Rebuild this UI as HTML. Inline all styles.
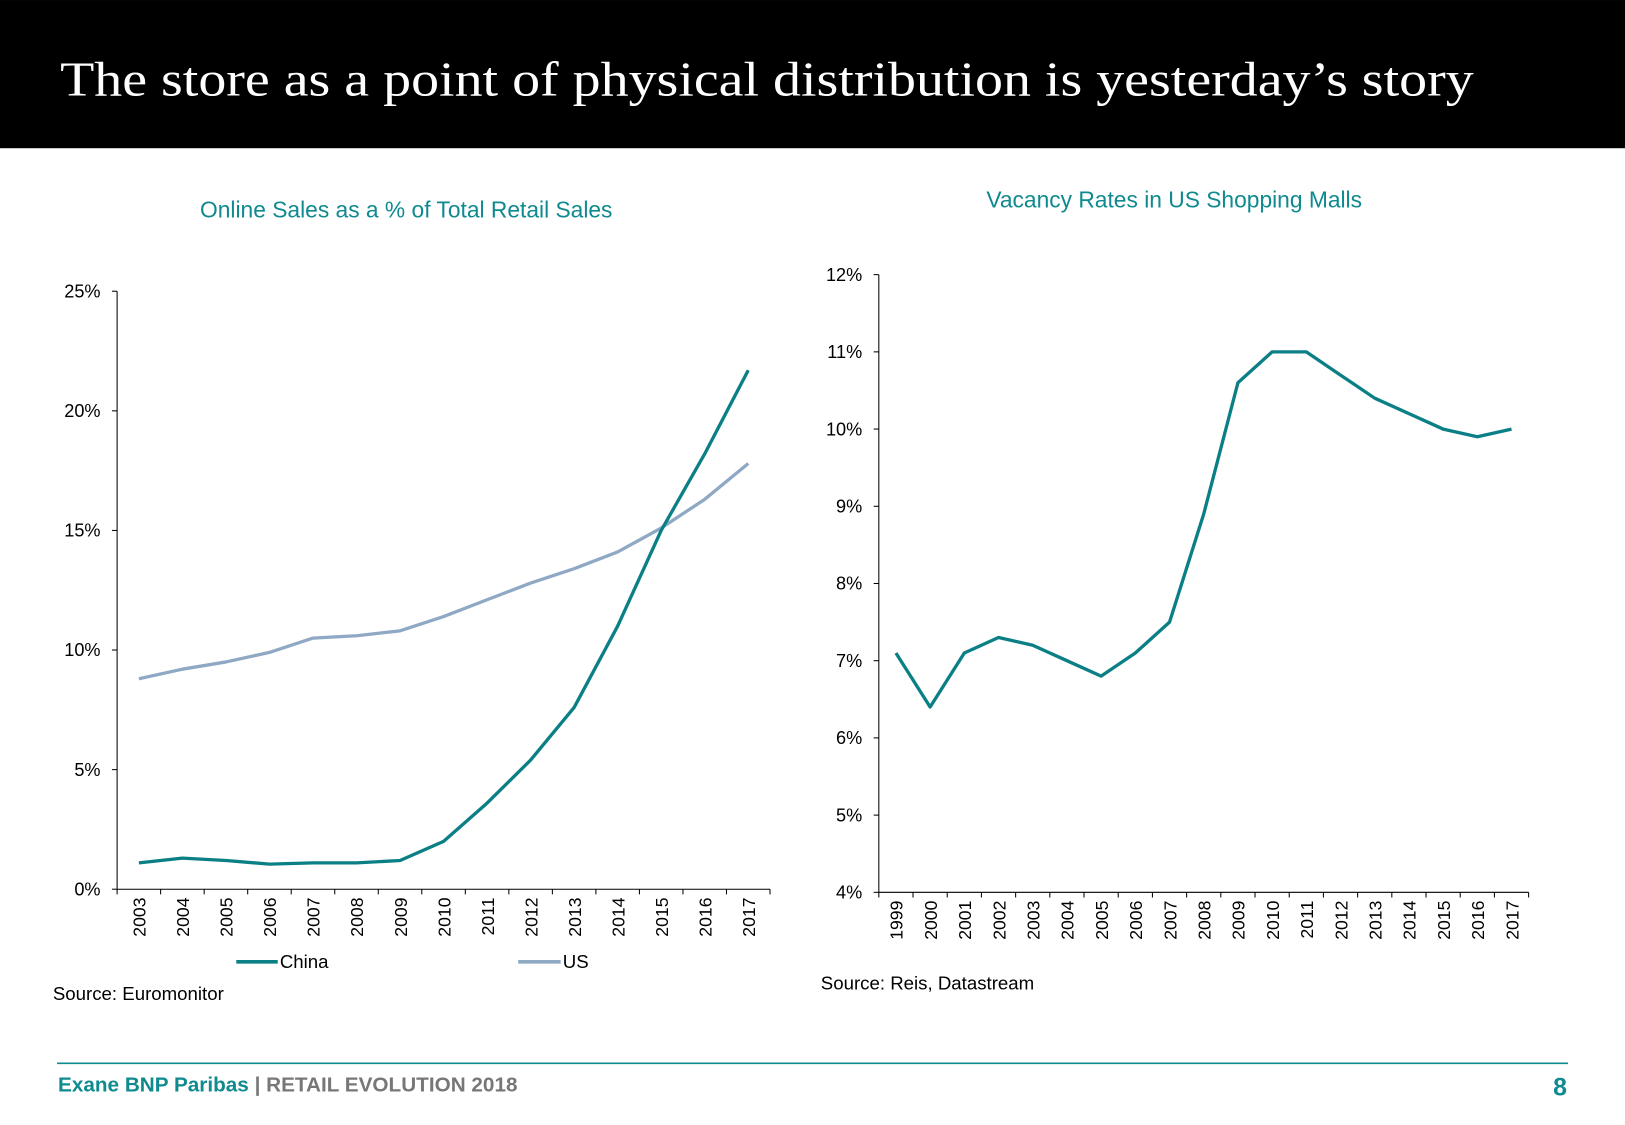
<!DOCTYPE html>
<html><head><meta charset="utf-8"><style>
html,body{margin:0;padding:0;background:#fff;width:1625px;height:1125px;overflow:hidden}
svg{display:block}
text{font-family:"Liberation Sans",sans-serif}
</style></head><body>
<svg id="root" width="1625" height="1125" viewBox="0 0 1568 1085.5">
<rect x="0" y="0" width="1568" height="143" fill="#000"/>
<text x="58" y="92" font-size="47" fill="#fff" style='font-family:"Liberation Serif",serif' textLength="1364" lengthAdjust="spacingAndGlyphs">The store as a point of physical distribution is yesterday’s story</text>
<text x="392" y="210" font-size="22" fill="#0f8a8f" text-anchor="middle">Online Sales as a % of Total Retail Sales</text>
<text x="1133" y="200" font-size="22" fill="#0f8a8f" text-anchor="middle">Vacancy Rates in US Shopping Malls</text>
<g id="left"></g>
<g id="right"></g>
<line x1="228" y1="928" x2="268" y2="928" stroke="#0a7f85" stroke-width="3.5"/>
<text x="270" y="934" font-size="18">China</text>
<line x1="500" y1="928" x2="541" y2="928" stroke="#8fa9c4" stroke-width="3.5"/>
<text x="543" y="934" font-size="18">US</text>
<text x="51" y="965" font-size="18">Source: Euromonitor</text>
<text x="792" y="955" font-size="18">Source: Reis, Datastream</text>
<line x1="55" y1="1026" x2="1513" y2="1026" stroke="#0f8a8f" stroke-width="1.5"/>
<text x="56" y="1053" font-size="20" font-weight="bold"><tspan fill="#0f8a8f">Exane BNP Paribas</tspan><tspan fill="#777"> | RETAIL EVOLUTION 2018</tspan></text>
<text x="1512" y="1057" font-size="24" font-weight="bold" fill="#0f8a8f" text-anchor="end">8</text>
</svg>
<script>
const leftYears=["2003","2004","2005","2006","2007","2008","2009","2010","2011","2012","2013","2014","2015","2016","2017"];
const chinaValues=[1.1,1.3,1.2,1.05,1.1,1.1,1.2,2.0,3.6,5.4,7.6,11.0,15.0,18.2,21.7];
const usValues=[8.8,9.2,9.5,9.9,10.5,10.6,10.8,11.4,12.1,12.8,13.4,14.1,15.1,16.3,17.8];
const leftTicks=[0,5,10,15,20,25];
const rightYears=["1999","2000","2001","2002","2003","2004","2005","2006","2007","2008","2009","2010","2011","2012","2013","2014","2015","2016","2017"];
const vacancyValues=[7.1,6.4,7.1,7.3,7.2,7.0,6.8,7.1,7.5,8.9,10.6,11.0,11.0,10.7,10.4,10.2,10.0,9.9,10.0];
const rightTicks=[4,5,6,7,8,9,10,11,12];
const NS="http://www.w3.org/2000/svg";
function mk(parent,tag,attrs,txt){const e=document.createElementNS(NS,tag);for(const k in attrs)e.setAttribute(k,attrs[k]);if(txt!==undefined)e.textContent=txt;parent.appendChild(e);return e;}
function chart(g,cfg){
  const {x0,x1,yTop,yBot,min,max,cats,ticks,series}=cfg;
  const bw=(x1-x0)/cats.length;
  const X=i=>x0+bw*(i+0.5);
  const Y=v=>yBot-(v-min)/(max-min)*(yBot-yTop);
  let e=mk(g,'line',{x1:x0,y1:yTop,x2:x0,y2:yBot,stroke:'#000','stroke-width':1});
  
  
  e=mk(g,'line',{x1:x0,y1:yBot,x2:x1,y2:yBot,stroke:'#000','stroke-width':1});
  
  
  ticks.forEach(t=>{
    const y=Y(t);
    mk(g,'line',{x1:x0-5,y1:y,x2:x0,y2:y,stroke:'#000'});
    e=mk(g,'text',{x:x0-16,y:y+6,'font-size':17.5,'text-anchor':'end'},t+'%');
    
    
  });
  for(let i=0;i<=cats.length;i++){const x=x0+bw*i;mk(g,'line',{x1:x,y1:yBot,x2:x,y2:yBot+5,stroke:'#000'});}
  cats.forEach((c,i)=>{
    e=mk(g,'text',{x:0,y:0,'font-size':17,'text-anchor':'end',transform:`translate(${X(i)+6.5},${yBot+8}) rotate(-90)`},c);
    
    
  });
  series.forEach(s=>{
    const d=s.vals.map((v,i)=>(i?'L':'M')+X(i).toFixed(1)+','+Y(v).toFixed(1)).join(' ');
    e=mk(g,'path',{d:d,fill:'none',stroke:s.color,'stroke-width':3.2,'stroke-linejoin':'round'});
    
    
  });
}
chart(document.getElementById('left'),{x0:113,x1:743,yTop:281,yBot:858,min:0,max:25,cats:leftYears,ticks:leftTicks,
  series:[{vals:usValues,color:'#8fa9c4',name:'us-line'},{vals:chinaValues,color:'#0a7f85',name:'china-line'}]});
chart(document.getElementById('right'),{x0:848,x1:1475,yTop:265,yBot:861,min:4,max:12,cats:rightYears,ticks:rightTicks,
  series:[{vals:vacancyValues,color:'#0a7f85',name:'vacancy-line'}]});
</script>
</body></html>
